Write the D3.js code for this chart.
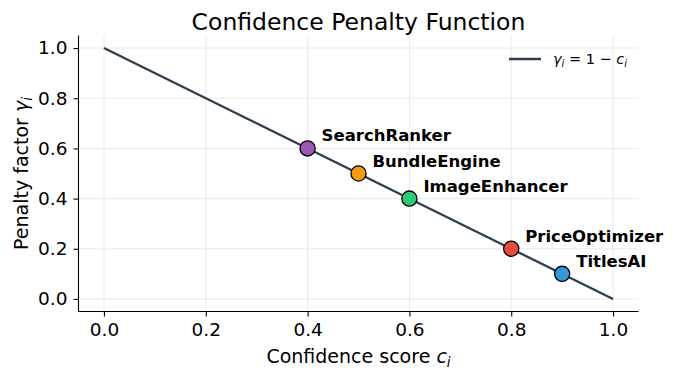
<!DOCTYPE html>
<html><head><meta charset="utf-8">
<script src="https://cdn.jsdelivr.net/npm/d3@7"></script>
<style>body{margin:0;background:#fff}svg{display:block}text{font-family:"DejaVu Sans",sans-serif}</style>
</head><body><svg id="c" width="674" height="378"></svg>
<script>
const lineX = [0, 1];
const lineY = [1, 0];
const names = ["SearchRanker","BundleEngine","ImageEnhancer","PriceOptimizer","TitlesAI"];
const conf = [0.4, 0.5, 0.6, 0.8, 0.9];
const penalty = [0.6, 0.5, 0.4, 0.2, 0.1];
const colors = ["#9b59b6","#f39c12","#2ecc71","#e74c3c","#3498db"];
const ticks = [0, 0.2, 0.4, 0.6, 0.8, 1.0];

const svg = d3.select("#c");
const L=78.5, R=638.5, T=35.5, B=311.5;
const x = d3.scaleLinear().domain([-0.05,1.05]).range([L,R]);
const y = d3.scaleLinear().domain([-0.05,1.05]).range([B,T]);

// grid
const g = svg.append("g");
g.selectAll(".gx").data(ticks).join("line").attr("x1",d=>x(d)).attr("x2",d=>x(d)).attr("y1",T).attr("y2",B)
 .attr("stroke","#b0b0b0").attr("stroke-opacity",0.35).attr("stroke-width",0.8);
g.selectAll(".gy").data(ticks).join("line").attr("y1",d=>y(d)).attr("y2",d=>y(d)).attr("x1",L).attr("x2",R)
 .attr("stroke","#b0b0b0").attr("stroke-opacity",0.35).attr("stroke-width",0.8);

// axes
const xa = svg.append("g").attr("transform",`translate(0,${B})`).call(d3.axisBottom(x).tickValues(ticks).tickFormat(d3.format(".1f")).tickSize(5).tickPadding(6));
const ya = svg.append("g").attr("transform",`translate(${L},0)`).call(d3.axisLeft(y).tickValues(ticks).tickFormat(d3.format(".1f")).tickSize(5).tickPadding(6));
[xa,ya].forEach(a=>{
  a.select(".domain").attr("d", a===xa?`M${L},0H${R}`:`M0,${T}V${B}`).attr("stroke","#000").attr("stroke-width",1.1);
  a.selectAll(".tick line").attr("stroke","#000").attr("stroke-width",1.1);
  a.selectAll(".tick text").attr("font-size",18.5).attr("fill","#000").attr("font-family","DejaVu Sans");
});

// line
svg.append("path").datum(lineX.map((d,i)=>[d,lineY[i]]))
 .attr("d",d3.line().x(d=>x(d[0])).y(d=>y(d[1]))).attr("fill","none").attr("stroke","#2c3e50").attr("stroke-width",2.3);

// points
svg.selectAll(".pt").data(names).join("circle")
 .attr("cx",(d,i)=>x(conf[i])).attr("cy",(d,i)=>y(penalty[i])).attr("r",7.6)
 .attr("fill",(d,i)=>colors[i]).attr("stroke","#000").attr("stroke-width",1.3);
svg.selectAll(".lb").data(names).join("text")
 .attr("x",(d,i)=>x(conf[i])+14).attr("y",(d,i)=>y(penalty[i])-7)
 .attr("font-size",16.5).attr("font-weight","bold").attr("fill","#000").text(d=>d);

// title and labels
svg.append("text").attr("x",(L+R)/2).attr("y",30).attr("text-anchor","middle").attr("font-size",23.5).text("Confidence Penalty Function");
const xl = svg.append("text").attr("x",(L+R)/2).attr("y",363).attr("text-anchor","middle").attr("font-size",19);
xl.append("tspan").text("Confidence score ");
xl.append("tspan").attr("font-style","italic").text("c");
xl.append("tspan").attr("font-style","italic").attr("font-size",13.5).attr("dy",4).text("i");
const yl = svg.append("text").attr("transform",`translate(28,${(T+B)/2}) rotate(-90)`).attr("text-anchor","middle").attr("font-size",19);
yl.append("tspan").text("Penalty factor ");
yl.append("tspan").attr("font-style","italic").text("γ");
yl.append("tspan").attr("font-style","italic").attr("font-size",13.5).attr("dy",4).text("i");

// legend
svg.append("line").attr("x1",509).attr("x2",541).attr("y1",59).attr("y2",59).attr("stroke","#2c3e50").attr("stroke-width",2.5);
const lt = svg.append("text").attr("x",553).attr("y",64).attr("font-size",14.5);
lt.append("tspan").attr("font-style","italic").text("γ");
lt.append("tspan").attr("font-style","italic").attr("font-size",10).attr("dy",3).text("i");
lt.append("tspan").attr("dy",-3).text(" = 1 − ");
lt.append("tspan").attr("font-style","italic").text("c");
lt.append("tspan").attr("font-style","italic").attr("font-size",10).attr("dy",3).text("i");
</script></body></html>
